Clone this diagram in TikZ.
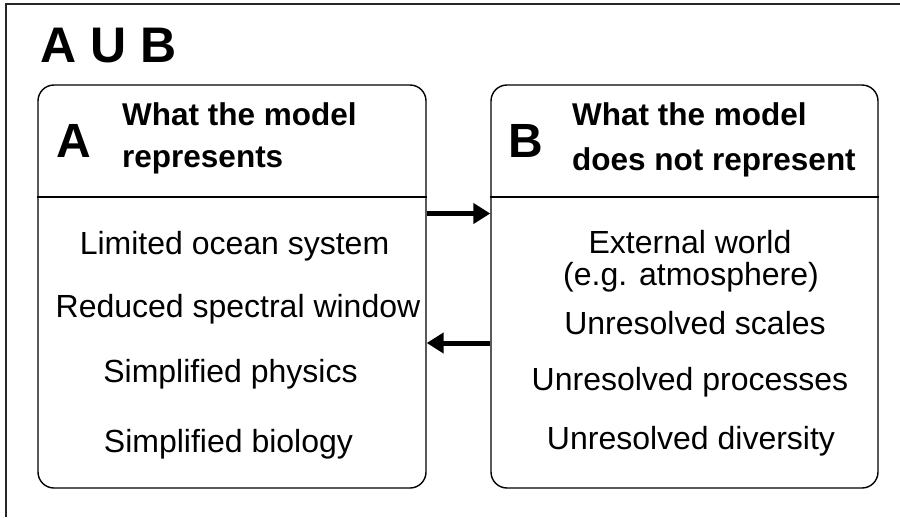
\documentclass[tikz,border=0pt]{standalone}
\usepackage{fontspec}
\setmainfont{Liberation Sans}
\usetikzlibrary{arrows.meta}
\begin{document}
\begin{tikzpicture}[x=1pt,y=-1pt,
  frame/.style={line width=1.6pt, black!85},
  panel/.style={draw, line width=1.4pt, rounded corners=16pt, inner sep=0pt},
  sepline/.style={line width=1.4pt},
  flow/.style={line width=5pt, -{Triangle[length=17pt,width=20pt]}},
  title/.style={inner sep=0pt, anchor=base west, font=\fontsize{50}{50}\selectfont\bfseries},
  letter/.style={inner sep=0pt, anchor=base west, font=\fontsize{48}{48}\selectfont\bfseries},
  head/.style={inner sep=0pt, anchor=base west, font=\fontsize{31.5}{31.5}\selectfont\bfseries},
  item/.style={inner sep=0pt, anchor=base, font=\fontsize{32}{32}\selectfont}
]
\useasboundingbox (0,0) rectangle (900,517);
\coordinate (ftl) at (6,4);
\coordinate (ftr) at (900,4);
\coordinate (fbl) at (6,517);
\draw[frame] (ftr) -- (ftl) -- (fbl);

\node[title] (t) at (40,62) {A U B};

\node[panel, minimum width=388pt, minimum height=403pt] (A) at (232,286.5) {};
\node[panel, minimum width=387pt, minimum height=403pt] (B) at (684.5,286.5) {};

\coordinate (sep) at (0,197);
\draw[sepline] (A.west |- sep) -- (A.east |- sep);
\draw[sepline] (B.west |- sep) -- (B.east |- sep);

\node[letter] (la) at (56,157) {A};
\node[head] (ha1) at (122,125) {What the model};
\node[head] (ha2) at (122,167) {represents};

\node[letter] (lb) at (508,157) {B};
\node[head] (hb1) at (572,125) {What the model};
\node[head] (hb2) at (572,170) {does not represent};

\node[item] (a1) at (234.5,254) {Limited ocean system};
\node[item] (a2) at (238,317) {Reduced spectral window};
\node[item] (a3) at (230.5,382) {Simplified physics};
\node[item] (a4) at (228.5,452) {Simplified biology};

\node[item] (b1) at (690,253) {External world};
\node[item] (b2) at (691,285) {(e.g. atmosphere)};
\node[item] (b3) at (695,334) {Unresolved scales};
\node[item] (b4) at (690,390) {Unresolved processes};
\node[item] (b5) at (691,449) {Unresolved diversity};

\coordinate (r1) at (0,213.5);
\coordinate (r2) at (0,343);
\draw[flow] (A.east |- r1) -- (B.west |- r1);
\draw[flow] (B.west |- r2) -- (A.east |- r2);
\end{tikzpicture}
\end{document}
